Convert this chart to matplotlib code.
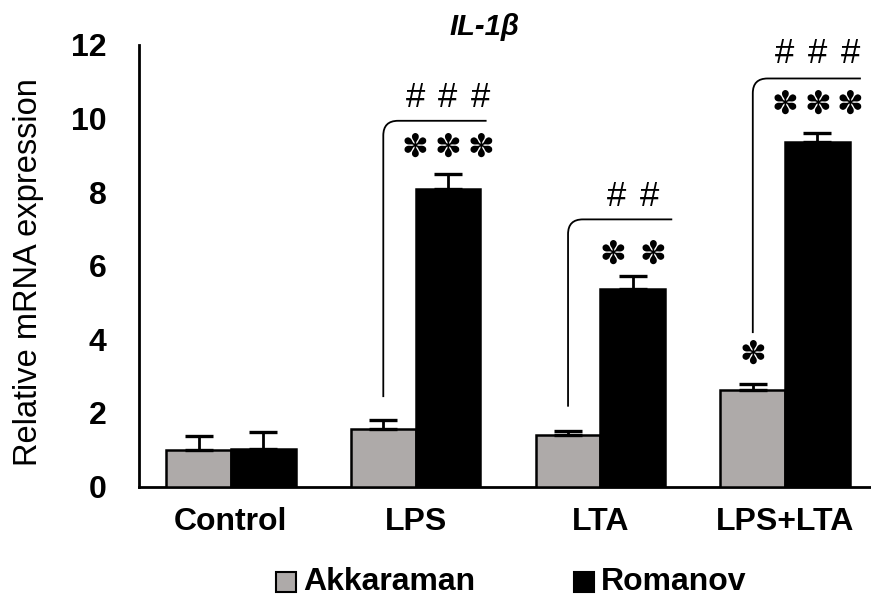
import matplotlib
matplotlib.use("Agg")
import matplotlib.pyplot as plt
import numpy as np
from matplotlib.path import Path
from matplotlib.patches import PathPatch, Rectangle

plt.rcParams['font.family'] = ['Liberation Sans', 'DejaVu Sans']

categories = ["Control", "LPS", "LTA", "LPS+LTA"]
series_names = ["Akkaraman", "Romanov"]
akkaraman = [1.0, 1.57, 1.39, 2.61]
akkaraman_err = [0.37, 0.24, 0.13, 0.17]
romanov = [1.03, 8.08, 5.36, 9.37]
romanov_err = [0.46, 0.41, 0.36, 0.23]
yticks = [0, 2, 4, 6, 8, 10, 12]
title = "IL-1β"
ylabel = "Relative mRNA expression"

# significance annotations: (group, bracket bottom, bracket top, right end, n hashes, hash y, n stars, star y)
brackets = [
    (1, 2.43, 9.94, 1.384, 3, 10.58, 3, 9.2),
    (2, 2.17, 7.26, 2.389, 2, 7.87, 2, 6.29),
    (3, 4.17, 11.09, 3.41, 3, 11.78, 3, 10.37),
]
single_star = (3, 3.57)
STAR = "\u273d"

W, H = 871, 596
fig = plt.figure(figsize=(W / 100, H / 100), dpi=100)
ax = fig.add_axes([138.5 / W, (H - 486.5) / H, (877.5 - 138.5) / W, (486.5 - 45) / H])

x = np.arange(len(categories))
bw = 0.35
gray = "#aeaaa9"
ek = dict(elinewidth=2.0, capsize=10, capthick=2.4, ecolor="black")
ax.bar(x - bw / 2, akkaraman, bw, color=gray, edgecolor="black", linewidth=1.8,
       yerr=[np.zeros(4), akkaraman_err], error_kw=ek, zorder=3)
ax.bar(x + bw / 2, romanov, bw, color="black", edgecolor="black", linewidth=1.8,
       yerr=[np.zeros(4), romanov_err], error_kw=ek, zorder=3)

ax.set_xlim(-0.5, 3.5)
ax.set_ylim(0, 12)
ax.set_yticks(yticks)
ax.set_yticklabels([str(t) for t in yticks], fontsize=23, fontweight="bold")
ax.set_xticks(x)
ax.set_xticklabels(categories, fontsize=23, fontweight="bold")
ax.tick_params(axis="y", length=0, pad=23)
ax.tick_params(axis="x", length=0, pad=15)
for s in ["top", "right"]:
    ax.spines[s].set_visible(False)
for s in ["left", "bottom"]:
    ax.spines[s].set_linewidth(2.0)
ax.patch.set_alpha(0)

px = 1 / 185.0  # data units per pixel along x
# brackets
rx, ry = 0.08, 0.4
for g, yb, yt, xr, nh, hy, ns, sy in brackets:
    xl = g - bw / 2
    verts = [(xl, yb), (xl, yt - ry), (xl, yt), (xl + rx, yt), (xr, yt)]
    codes = [Path.MOVETO, Path.LINETO, Path.CURVE3, Path.CURVE3, Path.LINETO]
    ax.add_patch(PathPatch(Path(verts, codes), fill=False, lw=1.3, color="black", zorder=4))
    xc = g + bw / 2
    for i in range(nh):
        ax.text(xc + (i - (nh - 1) / 2) * 33 * px, hy, "#", ha="center", va="center", fontsize=25)
    sp = 33 if ns == 3 else 40
    for i in range(ns):
        ax.text(xc + (i - (ns - 1) / 2) * sp * px, sy, STAR, ha="center", va="center",
                fontsize=23, family="DejaVu Sans")
g, sy = single_star
ax.text(g - bw / 2, sy, STAR, ha="center", va="center", fontsize=23, family="DejaVu Sans")

fig.text(484 / W, 1 - 27 / H, title, ha="center", va="center", fontsize=21,
         fontweight="bold", fontstyle="italic")
fig.text(29 / W, 1 - 272 / H, ylabel, rotation=90, ha="center", va="center", fontsize=23.5)

# legend
ly = 582
for (x0, col, name) in [(276, gray, series_names[0]), (574, "black", series_names[1])]:
    fig.patches.append(Rectangle((x0 / W, 1 - (ly + 10) / H), 20 / W, 20 / H, transform=fig.transFigure,
                                 facecolor=col, edgecolor="black", linewidth=1.5))
    fig.text((x0 + 27) / W, 1 - ly / H, name, ha="left", va="center", fontsize=23, fontweight="bold")

fig.savefig("out.png", dpi=100)
